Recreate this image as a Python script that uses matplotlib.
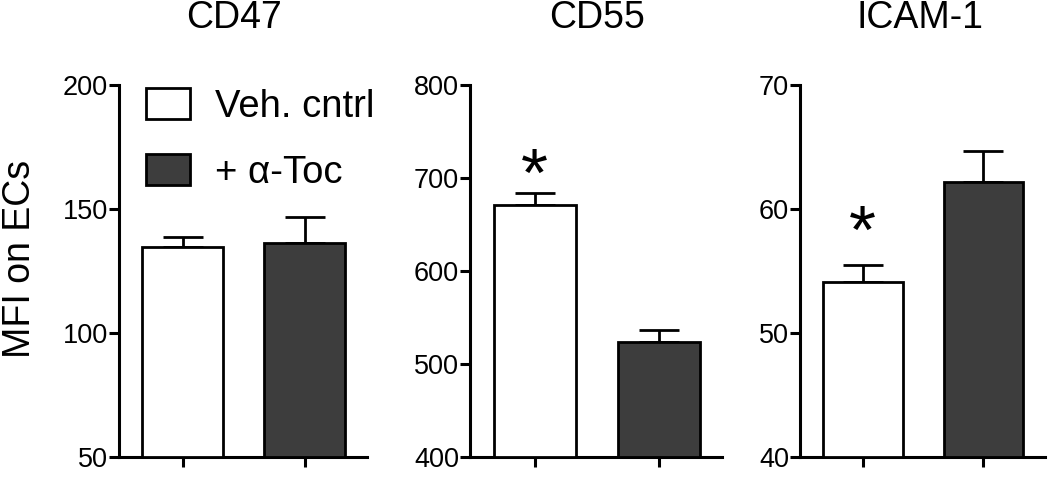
import matplotlib
matplotlib.use("Agg")
import matplotlib.pyplot as plt
from matplotlib.patches import Patch

plt.rcParams["font.family"] = ["Liberation Sans", "DejaVu Sans"]

# data
panels = ["CD47", "CD55", "ICAM-1"]
groups = ["Veh. cntrl", "+ \u03b1-Toc"]
means = [[134.8, 136.3], [671, 524], [54.1, 62.2]]
errs = [[3.9, 10.5], [13, 13], [1.35, 2.5]]
ylims = [(50, 200), (400, 800), (40, 70)]
yticks = [[50, 100, 150, 200], [400, 500, 600, 700, 800], [40, 50, 60, 70]]
star_y = [None, 700, 57.9]   # asterisk over the veh. control bar

W, H = 1050, 478
fig = plt.figure(figsize=(W / 100, H / 100), dpi=100)

# axes boxes in pixels: left, right; title centres
boxes = [(119, 367), (470, 722), (800, 1045)]
title_x = [234, 597, 920]
top_px, bot_px = 85, 457
colors = ["white", "#3d3d3d"]

for i, name in enumerate(panels):
    l, r = boxes[i]
    ax = fig.add_axes([l / W, (H - bot_px) / H, (r - l) / W, (bot_px - top_px) / H])
    x = [0, 1]
    ax.bar(x, [m - ylims[i][0] for m in means[i]], bottom=ylims[i][0], width=0.66,
           color=colors, edgecolor="black", linewidth=2.0, zorder=3)
    ax.errorbar(x, means[i], yerr=[[0, 0], errs[i]], fmt="none", ecolor="black",
                elinewidth=2.0, capsize=14.5, capthick=2.0, zorder=2)
    ax.set_xlim(-0.52, 1.51)
    ax.set_ylim(*ylims[i])
    ax.set_yticks(yticks[i])
    ax.set_xticks(x)
    ax.set_xticklabels([])
    for s in ["top", "right"]:
        ax.spines[s].set_visible(False)
    for s in ["left", "bottom"]:
        ax.spines[s].set_linewidth(2.2)
    ax.tick_params(axis="both", width=2.2, length=7, labelsize=19.5, pad=1)
    fig.text(title_x[i] / W, (H - 18) / H, name, ha="center", va="center", fontsize=27)
    if star_y[i] is not None:
        ax.text(0, star_y[i], "*", ha="center", va="center", fontsize=50)
    if i == 0:
        handles = [Patch(facecolor=c, edgecolor="black", linewidth=2.0) for c in colors]
        ax.legend(handles, groups, loc="upper left", frameon=False, fontsize=27.5,
                  bbox_to_anchor=(146 / W, (H - 88) / H), bbox_transform=fig.transFigure,
                  handlelength=1.15, handleheight=0.88, handletextpad=0.65,
                  labelspacing=0.76, borderpad=0, borderaxespad=0)

fig.text(20 / W, (H - 259) / H, "MFI on ECs", rotation=90, ha="center", va="center",
         fontsize=27)

fig.savefig("out.png", dpi=100)
